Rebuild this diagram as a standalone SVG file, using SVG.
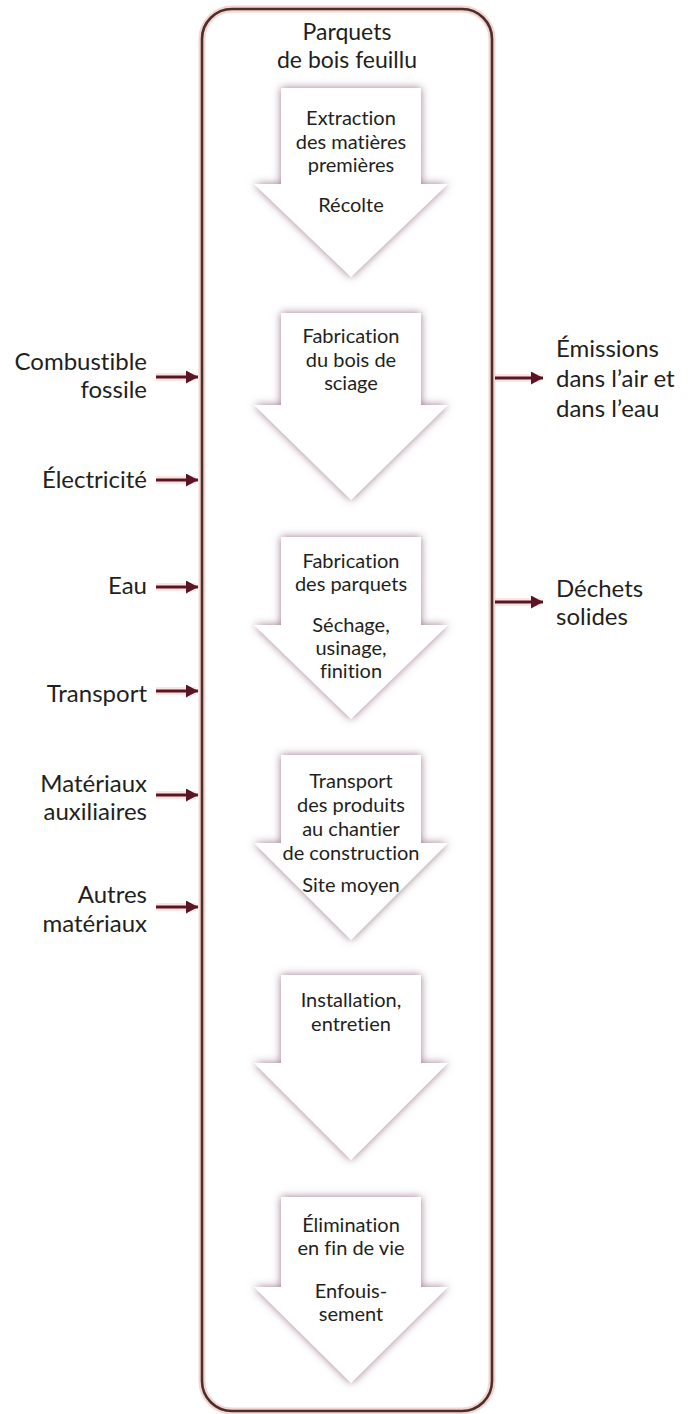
<svg xmlns="http://www.w3.org/2000/svg" width="695" height="1414" viewBox="0 0 695 1414">
<style>
  text { font-family: Lato, "Open Sans", "Liberation Sans", sans-serif; fill: #231f20; font-variant-ligatures: none; }
  .in { font-size: 20px; text-anchor: middle; }
  .ttl { font-size: 23px; text-anchor: middle; }
  .lbl { font-size: 24px; text-anchor: end; }
  .rlbl { font-size: 24px; text-anchor: start; }
  .big { fill: #ffffff; filter: url(#sh); }
  .conn { stroke: #5a1426; stroke-width: 3.2; fill: none; marker-end: url(#ah); }
  .halo { stroke: #f6cfc8; stroke-width: 8; fill: none; opacity: 0.55; }
</style>
<defs>
  <filter id="sh" x="-20%" y="-20%" width="140%" height="140%">
    <feDropShadow dx="0" dy="0" stdDeviation="4" flood-color="#8e6a80" flood-opacity="0.9"/>
  </filter>
  <marker id="ah" viewBox="0 0 12 13" refX="12" refY="6.5" markerWidth="12" markerHeight="13" markerUnits="userSpaceOnUse" orient="auto">
    <path d="M0,0 L12,6.5 L0,13 Z" fill="#5a1426"/>
  </marker>
</defs>
<rect width="695" height="1414" fill="#ffffff"/>
<g id="frame">
  <rect x="202" y="9" width="290" height="1402" rx="30" ry="30" fill="none" stroke="#f3c2ba" stroke-width="7" opacity="0.7"/>
  <rect x="202" y="9" width="290" height="1402" rx="30" ry="30" fill="none" stroke="#47302f" stroke-width="2.6"/>
  <text class="ttl" x="347" y="40">Parquets</text>
  <text class="ttl" x="347" y="68">de bois feuillu</text>
</g>
<g id="step1">
  <path class="big" d="M281,88 H421 V184 H448 L351,277 L254,184 H281 Z"/>
  <text class="in" x="351" y="125">Extraction</text>
  <text class="in" x="351" y="149">des matières</text>
  <text class="in" x="351" y="172">premières</text>
  <text class="in" x="351" y="212">Récolte</text>
</g>
<g id="step2">
  <path class="big" d="M281,313 H421 V405 H448 L351,500 L254,405 H281 Z"/>
  <text class="in" x="351" y="343">Fabrication</text>
  <text class="in" x="351" y="367">du bois de</text>
  <text class="in" x="351" y="390">sciage</text>
</g>
<g id="step3">
  <path class="big" d="M281,537 H421 V625 H448 L351,719 L254,625 H281 Z"/>
  <text class="in" x="351" y="568">Fabrication</text>
  <text class="in" x="351" y="591">des parquets</text>
  <text class="in" x="351" y="632">Séchage,</text>
  <text class="in" x="351" y="655">usinage,</text>
  <text class="in" x="351" y="678">finition</text>
</g>
<g id="step4">
  <path class="big" d="M281,755 H421 V843 H448 L351,940 L254,843 H281 Z"/>
  <text class="in" x="351" y="788">Transport</text>
  <text class="in" x="351" y="812">des produits</text>
  <text class="in" x="351" y="836">au chantier</text>
  <text class="in" x="351" y="860">de construction</text>
  <text class="in" x="351" y="892">Site moyen</text>
</g>
<g id="step5">
  <path class="big" d="M281,975 H421 V1063 H448 L351,1160 L254,1063 H281 Z"/>
  <text class="in" x="351" y="1007">Installation,</text>
  <text class="in" x="351" y="1031">entretien</text>
</g>
<g id="step6">
  <path class="big" d="M281,1197 H421 V1287 H448 L351,1383 L254,1287 H281 Z"/>
  <text class="in" x="351" y="1232">Élimination</text>
  <text class="in" x="351" y="1255">en fin de vie</text>
  <text class="in" x="351" y="1298">Enfouis-</text>
  <text class="in" x="351" y="1321">sement</text>
</g>
<g id="in-combustible">
  <text class="lbl" x="147" y="370">Combustible</text>
  <text class="lbl" x="147" y="398">fossile</text>
</g>
<g id="in-electricite">
  <text class="lbl" x="147" y="488">Électricité</text>
</g>
<g id="in-eau">
  <text class="lbl" x="147" y="594">Eau</text>
</g>
<g id="in-transport">
  <text class="lbl" x="147" y="702">Transport</text>
</g>
<g id="in-materiaux">
  <text class="lbl" x="147" y="792">Matériaux</text>
  <text class="lbl" x="147" y="820">auxiliaires</text>
</g>
<g id="in-autres">
  <text class="lbl" x="147" y="903">Autres</text>
  <text class="lbl" x="147" y="932">matériaux</text>
</g>
<g id="out-emissions">
  <text class="rlbl" x="556" y="357">Émissions</text>
  <text class="rlbl" x="556" y="387">dans l’air et</text>
  <text class="rlbl" x="556" y="417">dans l’eau</text>
</g>
<g id="out-dechets">
  <text class="rlbl" x="556" y="597">Déchets</text>
  <text class="rlbl" x="556" y="625">solides</text>
</g>
<g id="connectors">
  <line class="halo" x1="156" y1="377" x2="196" y2="377"/>
  <line class="halo" x1="156" y1="480" x2="196" y2="480"/>
  <line class="halo" x1="156" y1="587" x2="196" y2="587"/>
  <line class="halo" x1="156" y1="691" x2="196" y2="691"/>
  <line class="halo" x1="156" y1="795" x2="196" y2="795"/>
  <line class="halo" x1="156" y1="907" x2="196" y2="907"/>
  <line class="halo" x1="495" y1="378" x2="541" y2="378"/>
  <line class="halo" x1="495" y1="602" x2="541" y2="602"/>
  <line class="conn" x1="156" y1="377" x2="198" y2="377"/>
  <line class="conn" x1="156" y1="480" x2="198" y2="480"/>
  <line class="conn" x1="156" y1="587" x2="198" y2="587"/>
  <line class="conn" x1="156" y1="691" x2="198" y2="691"/>
  <line class="conn" x1="156" y1="795" x2="198" y2="795"/>
  <line class="conn" x1="156" y1="907" x2="198" y2="907"/>
  <line class="conn" x1="495" y1="378" x2="543" y2="378"/>
  <line class="conn" x1="495" y1="602" x2="543" y2="602"/>
</g>
</svg>
